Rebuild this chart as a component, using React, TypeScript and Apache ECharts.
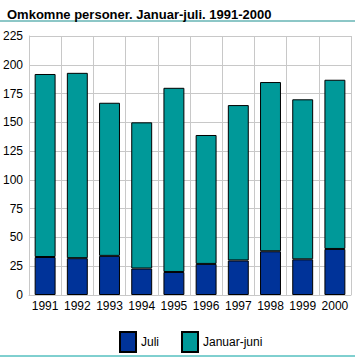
import React, { useEffect, useRef } from "react";
import * as echarts from "echarts";

const years = ["1991", "1992", "1993", "1994", "1995", "1996", "1997", "1998", "1999", "2000"];
const juli = [33, 32, 34, 23, 20, 27, 30, 38, 31, 40];
const januarJuni = [159, 161, 133, 127, 160, 112, 135, 147, 139, 147];

export default function App() {
  const ref = useRef<HTMLDivElement>(null);
  useEffect(() => {
    if (!ref.current) return;
    const chart = echarts.init(ref.current, null, { renderer: "svg" });
    const font = "'Liberation Sans', Arial, sans-serif";
    chart.setOption({
      animation: false,
      backgroundColor: "#ffffff",
      textStyle: { fontFamily: font },
      title: {
        text: "Omkomne personer. Januar-juli. 1991-2000",
        left: 2,
        top: 3,
        textStyle: { fontFamily: font, fontSize: 13, fontWeight: "bold", color: "#000" },
      },
      graphic: [
        { type: "line", shape: { x1: 0, y1: 21, x2: 355, y2: 21 }, style: { stroke: "#1a8f8f", lineWidth: 1 } },
        { type: "line", shape: { x1: 0, y1: 356, x2: 355, y2: 356 }, style: { stroke: "#00a0a0", lineWidth: 1 } },
      ],
      grid: { left: 29, right: 4, top: 36, bottom: 62, containLabel: false },
      legend: {
        top: 326,
        left: 114,
        itemWidth: 16,
        itemHeight: 20,
        itemGap: 22,
        icon: "rect",
        textStyle: { fontFamily: font, fontSize: 12, color: "#000" },
        data: ["Juli", "Januar-juni"],
      },
      xAxis: {
        type: "category",
        data: years,
        axisLine: { lineStyle: { color: "#c8c8c8" } },
        axisTick: { show: false },
        axisLabel: { color: "#000", fontSize: 12, fontFamily: font, margin: 5, interval: 0 },
        splitLine: { show: true, interval: 0, lineStyle: { color: "#c8c8c8" } },
      },
      yAxis: {
        type: "value",
        min: 0,
        max: 225,
        interval: 25,
        axisLine: { show: true, lineStyle: { color: "#c8c8c8" } },
        axisTick: { show: false },
        axisLabel: { color: "#000", fontSize: 12, fontFamily: font, margin: 6 },
        splitLine: { lineStyle: { color: "#c8c8c8" } },
      },
      series: [
        {
          name: "Juli",
          type: "bar",
          stack: "a",
          data: juli,
          barWidth: "65%",
          itemStyle: { color: "#003399", borderColor: "#000", borderWidth: 1 },
        },
        {
          name: "Januar-juni",
          type: "bar",
          stack: "a",
          data: januarJuni,
          barWidth: "65%",
          itemStyle: { color: "#009999", borderColor: "#000", borderWidth: 1 },
        },
      ],
    });
    return () => chart.dispose();
  }, []);
  return <div ref={ref} style={{ position: "fixed", left: 0, top: 0, width: 355, height: 357 }} />;
}
